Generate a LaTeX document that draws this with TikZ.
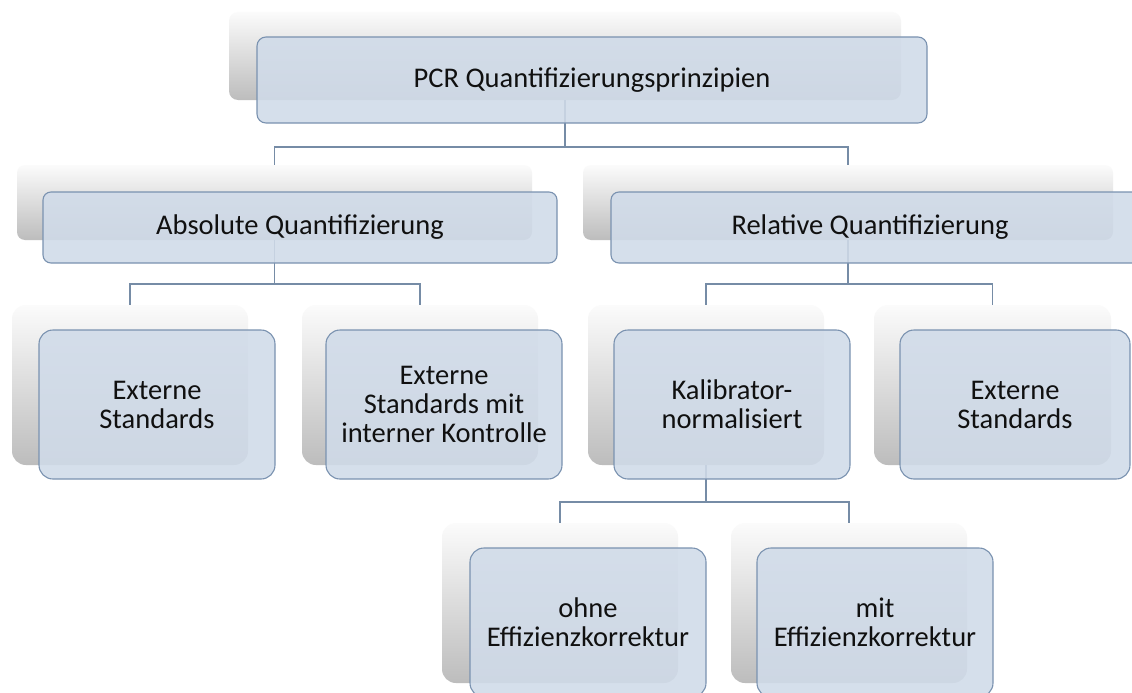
\documentclass[tikz,border=0pt]{standalone}
\usepackage{fontspec}
\setmainfont{Carlito}
\usetikzlibrary{positioning}

\definecolor{boxfill}{RGB}{208,219,233}
\definecolor{boxline}{RGB}{122,146,176}
\definecolor{linkcol}{RGB}{118,140,166}
\definecolor{txtcol}{RGB}{16,16,16}

\tikzset{
  backbox/.style={rounded corners=#1, inner sep=0pt, draw=none,
    top color=white!97!gray, middle color=gray!14, bottom color=gray!52},
  frontbox/.style={rounded corners=#1, inner sep=0pt, draw=boxline,
    line width=1.1pt, fill=boxfill, fill opacity=0.88, text opacity=1,
    text=txtcol, align=center,
    font=\fontsize{28.5}{29}\selectfont},
  label text/.style={inner sep=0pt, text=txtcol, align=center,
    font=\fontsize{28.5}{29}\selectfont},
  link/.style={draw=linkcol, line width=1.5pt},
}

\begin{document}
\begin{tikzpicture}[x=1pt, y=-1pt]
\useasboundingbox (0,0) rectangle (1132,693);
\clip (0,0) rectangle (1132,693);
\fill[white] (0,0) rectangle (1132,693);

% rear (shaded) plates
\node[backbox=9,  minimum width=672pt, minimum height=88pt]  (b0) at (565,56) {};
\node[backbox=8,  minimum width=515pt, minimum height=75pt]  (b1) at (274.5,202.5) {};
\node[backbox=8,  minimum width=530pt, minimum height=75pt]  (b2) at (848,202.5) {};
\node[backbox=14, minimum width=236pt, minimum height=160pt] (b3) at (130,385) {};
\node[backbox=14, minimum width=236pt, minimum height=160pt] (b4) at (420,385) {};
\node[backbox=14, minimum width=236pt, minimum height=160pt] (b5) at (706,385) {};
\node[backbox=14, minimum width=237pt, minimum height=160pt] (b6) at (992.5,385) {};
\node[backbox=14, minimum width=236pt, minimum height=160pt] (b7) at (560,603) {};
\node[backbox=14, minimum width=236pt, minimum height=160pt] (b8) at (849,603) {};

% junction points of the tree connectors
\coordinate (j0) at (565,147);
\coordinate (j1) at (274.5,284);
\coordinate (j2) at (848,284);
\coordinate (j5) at (706,502);

\draw[link] (b0.south) -- (j0) -| (b1.north);
\draw[link] (j0) -| (b2.north);
\draw[link] (b1.south) -- (j1) -| (b3.north);
\draw[link] (j1) -| (b4.north);
\draw[link] (b2.south) -- (j2) -| (b5.north);
\draw[link] (j2) -| (b6.north);
\draw[link] (b5.south) -- (j5) -| (b7.north);
\draw[link] (j5) -| (b8.north);

% front plates with their labels
\node[frontbox=9,  minimum width=670pt, minimum height=86pt]  (f0) at (592,80) {PCR Quantifizierungsprinzipien};
\node[frontbox=8,  minimum width=514pt, minimum height=71pt]  (f1) at (300,227.5) {Absolute Quantifizierung};
\node[frontbox=8,  minimum width=530pt, minimum height=71pt]  (f2) at (876,227.5) {};
\node[label text] (t2) at (870,227.5) {Relative Quantifizierung};
\node[frontbox=14, minimum width=236pt, minimum height=149pt] (f3) at (157,404.5) {Externe\\Standards};
\node[frontbox=14, minimum width=236pt, minimum height=149pt] (f4) at (444,404.5) {Externe\\Standards mit\\interner Kontrolle};
\node[frontbox=14, minimum width=236pt, minimum height=149pt] (f5) at (732,404.5) {Kalibrator-\\normalisiert};
\node[frontbox=14, minimum width=230pt, minimum height=149pt] (f6) at (1015,404.5) {Externe\\Standards};
\node[frontbox=14, minimum width=236pt, minimum height=149pt] (f7) at (588,622.5) {ohne\\Effizienzkorrektur};
\node[frontbox=14, minimum width=236pt, minimum height=149pt] (f8) at (875,622.5) {mit\\Effizienzkorrektur};
\end{tikzpicture}
\end{document}
